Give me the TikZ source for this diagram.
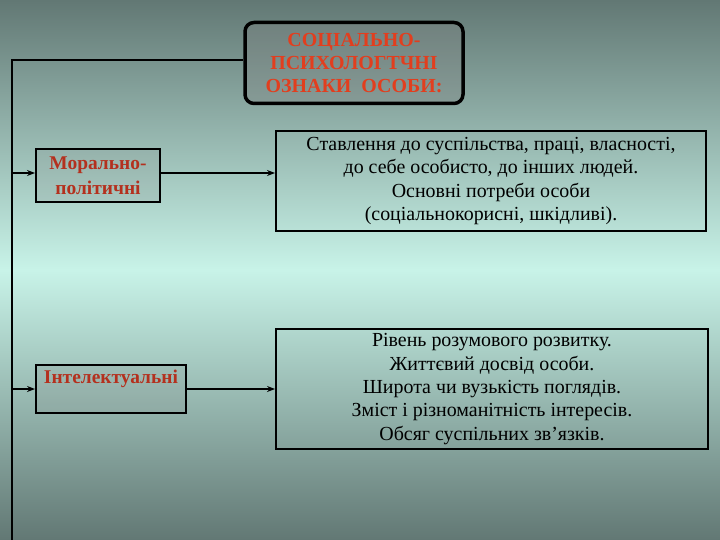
\documentclass[tikz,border=0pt]{standalone}
\usepackage{fontspec}
\setmainfont{Liberation Serif}
\usetikzlibrary{arrows.meta,calc}
\definecolor{bgdark}{RGB}{98,120,116}
\definecolor{bglight}{RGB}{200,243,232}
\definecolor{titlered}{RGB}{226,62,30}
\definecolor{labelred}{RGB}{180,48,30}
\tikzset{
    headbox/.style={draw=black,line width=3.5bp,rounded corners=9bp,
        fill=gray,fill opacity=0.3,text opacity=1,align=center,
        minimum width=218bp,minimum height=81bp,inner sep=2bp,
        font=\bfseries\fontsize{20}{23}\selectfont,text=titlered},
    kindbox/.style={draw=black,line width=2bp,fill=gray,fill opacity=0.15,
        text opacity=1,align=center,inner sep=3bp,
        font=\bfseries\fontsize{19.5}{25}\selectfont,text=labelred},
    infobox/.style={draw=black,line width=2bp,align=center,
        font=\fontsize{20}{23.5}\selectfont},
    link/.style={line width=1.4bp},
    feed/.style={link,-{Stealth[length=8bp,width=6bp]}}
}
\begin{document}
\begin{tikzpicture}[x=1bp,y=-1bp]
            \def\rail{12}
            \shade[top color=bgdark,bottom color=bglight] (0,0) rectangle (720,270);
            \shade[top color=bglight,bottom color=bgdark] (0,270) rectangle (720,540);
            \useasboundingbox (0,0) rectangle (720,540);
            \node[headbox] (head) at (354,63)
                {СОЦІАЛЬНО-\\ПСИХОЛОГТЧНІ\\ОЗНАКИ\ \ ОСОБИ:};
            \node[kindbox,minimum width=124bp,minimum height=53bp] (moral) at (98,176)
                {Морально-\\політичні};
            \node[kindbox,minimum width=150bp,text height=15bp,text depth=27bp] (intel) at (111,389)
                {Інтелектуальні};
            \node[infobox,minimum width=430bp,minimum height=99bp] (values) at (491,181)
                {Ставлення до суспільства, праці, власності,\\до себе особисто, до інших людей.\\Основні потреби особи\\(соціальнокорисні, шкідливі).};
            \node[infobox,minimum width=432bp,minimum height=120bp] (mind) at (492,389)
                {Рівень розумового розвитку.\\Життєвий досвід особи.\\Широта чи вузькість поглядів.\\Зміст і різноманітність інтересів.\\Обсяг суспільних зв’язків.};
            \coordinate (top) at (\rail,60);
            \coordinate (foot) at (\rail,540);
            \draw[link] (head.west |- top) -- (top) -- (foot);
            \foreach \kind/\info/\yy in {moral/values/173,intel/mind/389}
            {\coordinate (tap) at (\rail,\yy);
             \draw[feed] (tap) -- (\kind.west |- tap);
             \draw[feed] (\kind.east |- tap) -- (\info.west |- tap);}
\end{tikzpicture}
\end{document}
